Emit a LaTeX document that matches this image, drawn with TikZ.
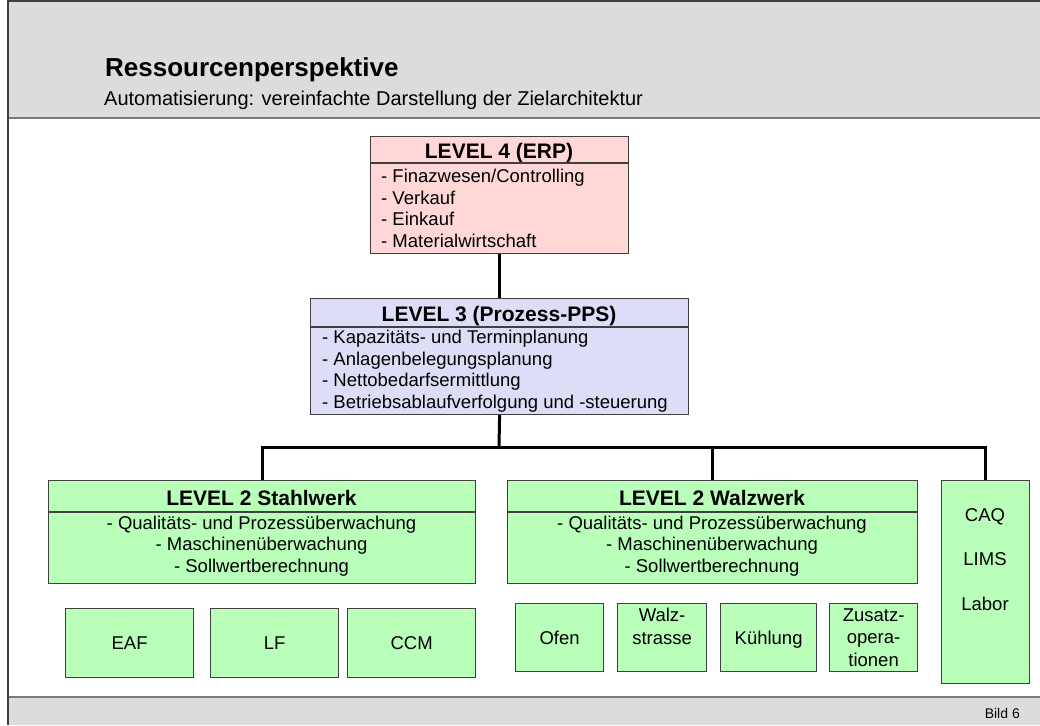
\documentclass[tikz,border=0pt]{standalone}
\usepackage{fontspec}
\setmainfont{Liberation Sans}
\usetikzlibrary{positioning}
\definecolor{headgray}{HTML}{DCDCDC}
\definecolor{framegray}{HTML}{7A7A7A}
\definecolor{boxgray}{HTML}{404040}
\definecolor{erppink}{HTML}{FFD7D7}
\definecolor{ppslilac}{HTML}{DDDDF7}
\definecolor{levelgreen}{HTML}{B9FFB9}

\begin{document}
\begin{tikzpicture}[x=1pt, y=-1pt,
  levelbox/.style={rectangle, draw=boxgray, line width=1.2pt, anchor=north west, inner sep=0pt},
  leveltitle/.style={anchor=base, inner sep=0pt, font=\fontsize{21}{24}\selectfont\bfseries},
  levellist/.style={anchor=base west, inner sep=0pt, align=left, font=\fontsize{18.5}{21.5}\selectfont},
  levelcenter/.style={anchor=base, inner sep=0pt, align=center, font=\fontsize{18.5}{21.5}\selectfont},
  unitbox/.style={levelbox, fill=levelgreen},
  unitlabel/.style={anchor=base, inner sep=0pt, align=center, font=\fontsize{18.5}{22.5}\selectfont},
  sepline/.style={draw=boxgray, line width=1.2pt},
  link/.style={draw=black, line width=3pt}
]
\useasboundingbox (0,0) rectangle (1040,725);

% header and footer
\fill[headgray] (8,0) rectangle (1040,118);
\fill[headgray] (8,697) rectangle (1040,725);
\draw[framegray, line width=2pt] (8,118) -- (1040,118);
\draw[framegray, line width=2pt] (8,697) -- (1040,697);
\draw[boxgray, line width=1.5pt] (8,1) -- (1040,1);
\draw[boxgray, line width=1.5pt] (8,0) -- (8,725);
\node[anchor=base west, inner sep=0pt, font=\fontsize{26}{30}\selectfont\bfseries] (title) at (105,76) {Ressourcenperspektive};
\node[anchor=base west, inner sep=0pt, font=\fontsize{20}{24}\selectfont] (subtitle) at (104,105) {Automatisierung: vereinfachte Darstellung der Zielarchitektur};
\node[anchor=base east, inner sep=0pt, font=\fontsize{14}{16}\selectfont] (bild) at (1020,718) {Bild 6};

% level 4
\node[levelbox, fill=erppink, minimum width=258pt, minimum height=117pt] (erp) at (370,136) {};
\node[leveltitle] (erptitle) at (499,158) {LEVEL 4 (ERP)};
\draw[sepline] (erp.west |- 0,163) -- (erp.east |- 0,163);
\node[levellist] (erplist) at (381,247) {- Finazwesen/Controlling\\- Verkauf\\- Einkauf\\- Materialwirtschaft};

% level 3
\node[levelbox, fill=ppslilac, minimum width=378pt, minimum height=116pt] (pps) at (310,298) {};
\node[leveltitle] (ppstitle) at (499,321) {LEVEL 3 (Prozess-PPS)};
\draw[sepline] (pps.west |- 0,327) -- (pps.east |- 0,327);
\node[levellist] (ppslist) at (322,408) {- Kapazitäts- und Terminplanung\\- Anlagenbelegungsplanung\\- Nettobedarfsermittlung\\- Betriebsablaufverfolgung und -steuerung};

% level 2
\node[levelbox, fill=levelgreen, minimum width=427pt, minimum height=103pt] (stahl) at (48,480) {};
\node[leveltitle] (stahltitle) at (261.5,505) {LEVEL 2 Stahlwerk};
\draw[sepline] (stahl.west |- 0,512) -- (stahl.east |- 0,512);
\node[levelcenter] (stahllist) at (261.5,572) {- Qualitäts- und Prozessüberwachung\\- Maschinenüberwachung\\- Sollwertberechnung};

\node[levelbox, fill=levelgreen, minimum width=410pt, minimum height=103pt] (walz) at (507,480) {};
\node[leveltitle] (walztitle) at (712,505) {LEVEL 2 Walzwerk};
\draw[sepline] (walz.west |- 0,512) -- (walz.east |- 0,512);
\node[levelcenter] (walzlist) at (712,572) {- Qualitäts- und Prozessüberwachung\\- Maschinenüberwachung\\- Sollwertberechnung};

\node[levelbox, fill=levelgreen, minimum width=88pt, minimum height=203pt] (caq) at (941,480) {};
\node[levelcenter] (caqtext) at (985,521) {CAQ};
\node[levelcenter] (limstext) at (985,565) {LIMS};
\node[levelcenter] (labortext) at (985,610) {Labor};

% units
\node[unitbox, minimum width=128pt, minimum height=69pt] (eaf) at (65,608) {};
\node[unitbox, minimum width=128pt, minimum height=69pt] (lf) at (210,608) {};
\node[unitbox, minimum width=128pt, minimum height=69pt] (ccm) at (347,608) {};
\node[unitlabel] (eaflabel) at (eaf.center |- 0,649) {EAF};
\node[unitlabel] (lflabel) at (lf.center |- 0,649) {LF};
\node[unitlabel] (ccmlabel) at (ccm.center |- 0,649) {CCM};

\node[unitbox, minimum width=88pt, minimum height=68pt] (ofen) at (515,603) {};
\node[unitbox, minimum width=89pt, minimum height=68pt] (strasse) at (617,603) {};
\node[unitbox, minimum width=96pt, minimum height=68pt] (kuehlung) at (720,603) {};
\node[unitbox, minimum width=88pt, minimum height=68pt] (zusatz) at (829,603) {};
\node[unitlabel] (ofenlabel) at (ofen.center |- 0,644) {Ofen};
\node[unitlabel] (strasselabel) at (strasse.center |- 0,644) {Walz-\\strasse};
\node[unitlabel] (kuehlunglabel) at (kuehlung.center |- 0,644) {Kühlung};
\node[unitlabel] (zusatzlabel) at (zusatz.center |- 0,666) {Zusatz-\\opera-\\tionen};

% connectors
\coordinate (bus) at (499,447);
\draw[link] (erp.south) -- (pps.north);
\draw[link] (pps.south) -- (bus);
\draw[link] (stahl.north) |- (bus) -| (caq.north);
\draw[link] (walz.north) -- (walz.north |- bus);
\end{tikzpicture}
\end{document}
